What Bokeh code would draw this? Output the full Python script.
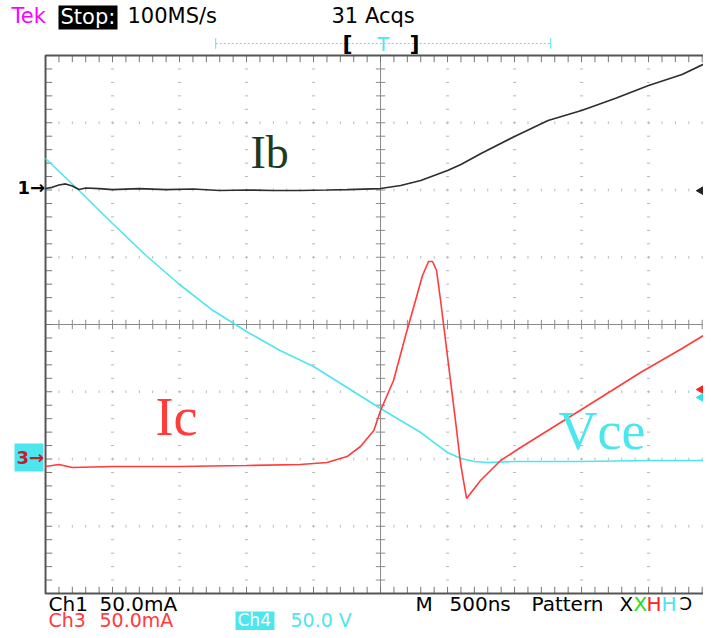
from bokeh.plotting import figure
from bokeh.models import Range1d, Label, BoxAnnotation
from bokeh.embed import file_html
from bokeh.resources import INLINE
import numpy as np

# ---- Data (time in ns, 500 ns/div; amplitude in screen divisions) ----
ib_t = [-2500, -2450, -2400, -2350, -2300, -2250, -2200, -2100, -2000, -1800, -1600, -1400,
        -1200, -1000, -800, -600, -400, -250, 0, 150, 300, 400, 500, 600, 750, 1000, 1250,
        1500, 1750, 2000, 2250, 2470]
ib_v = [2.022, 2.040, 2.075, 2.090, 2.060, 2.007, 2.030, 2.022, 2.007, 2.022, 2.007, 2.015,
        1.993, 2.000, 1.993, 1.993, 2.000, 2.007, 2.022, 2.067, 2.141, 2.216, 2.290, 2.379,
        2.543, 2.796, 3.033, 3.182, 3.361, 3.554, 3.717, 3.926]

ic_t = [-2500, -2400, -2300, -2000, -1500, -1000, -600, -400, -250, -150, -50, 0, 97, 187,
        261, 313, 358, 388, 418, 448, 485, 522, 560, 597, 642, 746, 896, 1045, 1500, 1750,
        1940, 2250, 2470]
ic_v = [-2.112, -2.082, -2.126, -2.112, -2.112, -2.097, -2.082, -2.052, -1.963, -1.814,
        -1.576, -1.279, -0.833, -0.164, 0.357, 0.729, 0.937, 0.937, 0.803, 0.357, -0.238,
        -0.833, -1.442, -2.067, -2.587, -2.320, -2.022, -1.829, -1.264, -0.952, -0.714,
        -0.357, -0.089]

vce_t = [-2500, -2250, -2000, -1750, -1500, -1250, -1000, -750, -500, -250, 0, 150, 300,
         400, 500, 600, 700, 800, 1000, 1500, 2000, 2470]
vce_v = [2.468, 1.993, 1.502, 1.026, 0.595, 0.208, -0.104, -0.387, -0.625, -0.937, -1.249,
         -1.428, -1.606, -1.755, -1.903, -1.993, -2.037, -2.052, -2.037, -2.037, -2.022, -2.022]

ch_ground = {"1": 2.04, "3": -1.98}          # left ground markers (div)
right_marks = [1.99, -0.967, -1.085]          # right offset markers (div)
right_cols = ["#222222", "#ff2020", "#30e0e8"]
trig_window = [-1230, 1270]                   # record window bar (ns)

RED = "#ff3b3b"
CYAN = "#4ee6ee"
BLK = "#2e2e2e"
SANS = "DejaVu Sans"
SERIF = "Liberation Serif"

p = figure(width=703, height=630, x_range=Range1d(-2836, 2410), y_range=Range1d(-4.550, 4.818),
           x_axis_type=None, y_axis_type=None, toolbar_location=None, output_backend="svg",
           min_border=0, outline_line_color=None, background_fill_color="white")
p.grid.visible = False

# ---- graticule ----
minor_x = np.arange(-2500, 2501, 100)
minor_y = np.arange(-4, 4.001, 0.2)
for xd in [-2000, -1500, -1000, -500, 500, 1000, 1500, 2000]:
    ys = minor_y[1:-1]
    p.segment(x0=[xd - 12] * len(ys), y0=ys, x1=[xd + 12] * len(ys), y1=ys,
              line_color="#b8b8b8", line_width=1)
for yd in [-3, -2, -1, 1, 2, 3]:
    xs = minor_x[1:-1]
    p.segment(x0=xs, y0=[yd - 0.02] * len(xs), x1=xs, y1=[yd + 0.02] * len(xs),
              line_color="#b8b8b8", line_width=1)
p.line([-2500, 2500], [0, 0], line_color="#8a8a8a", line_width=1)
p.line([0, 0], [-4, 4], line_color="#8a8a8a", line_width=1)
p.segment(x0=minor_x, y0=[-0.07] * len(minor_x), x1=minor_x, y1=[0.07] * len(minor_x),
          line_color="#8a8a8a", line_width=1)
p.segment(x0=[-35] * len(minor_y), y0=minor_y, x1=[35] * len(minor_y), y1=minor_y,
          line_color="#8a8a8a", line_width=1)
p.segment(x0=minor_x, y0=[4] * len(minor_x), x1=minor_x, y1=[3.9] * len(minor_x),
          line_color="#777777", line_width=1)
p.segment(x0=minor_x, y0=[-4] * len(minor_x), x1=minor_x, y1=[-3.9] * len(minor_x),
          line_color="#777777", line_width=1)
p.segment(x0=[-2500] * len(minor_y), y0=minor_y, x1=[-2450] * len(minor_y), y1=minor_y,
          line_color="#777777", line_width=1)
p.line([2500, -2500, -2500, 2500], [4, 4, -4, -4], line_color="#555555", line_width=2)

# ---- traces ----
p.line(vce_t, vce_v, line_color=CYAN, line_width=1.6)
p.line(ib_t, ib_v, line_color=BLK, line_width=1.7)
p.line(ic_t, ic_v, line_color=RED, line_width=1.6)

p.scatter([2395] * 3, right_marks, marker="triangle", angle=np.pi / 2, size=9,
          fill_color=right_cols, line_color=right_cols)

p.line(trig_window, [4.178, 4.178], line_color=CYAN, line_dash="2 2", line_width=1)
p.segment(x0=trig_window, y0=[4.1, 4.1], x1=trig_window, y1=[4.26, 4.26], line_color=CYAN)


def lab(x, y, text, color="black", size="21px", font=SANS, style="normal",
        yunits="screen"):
    p.add_layout(Label(x=x, y=y, x_units="screen", y_units=yunits, text=text,
                       text_color=color, text_font=font, text_font_size=size,
                       text_font_style=style, text_baseline="middle"))


def box(l, r, b, t, color):
    p.add_layout(BoxAnnotation(left=l, right=r, bottom=b, top=t, left_units="screen",
                               right_units="screen", top_units="screen",
                               bottom_units="screen", fill_color=color, fill_alpha=1,
                               line_color=None))


# header
lab(11, 615, "Tek", color="#ff00ff")
box(58, 117, 601, 625, "black")
lab(60, 614, "Stop:", color="white")
lab(127, 615, "100MS/s")
lab(331, 615, "31 Acqs")
lab(342, 587, "[", size="22px", style="bold")
lab(377, 587, "T", color=CYAN, size="19px")
lab(409, 587, "]", size="22px", style="bold")

# footer
lab(48, 27, "Ch1", size="20px")
lab(99, 27, "50.0mA", size="20px")
lab(415, 27, "M", size="20px")
lab(449, 27, "500ns", size="20px")
lab(531, 27, "Pattern", size="20px")
lab(619, 27, "X", size="20px")
lab(633, 27, "X", color="#22dd22", size="20px")
lab(646, 27, "H", color="#ff2020", size="20px")
lab(661, 27, "H", color=CYAN, size="20px")
lab(679, 27, "Ͻ", size="18px")
box(235, 274, 0, 19, CYAN)
lab(48, 11, "Ch3", color=RED, size="19px")
lab(99, 11, "50.0mA", color=RED, size="19px")
lab(237, 11, "Ch4", color="white", size="17px")
lab(290, 11, "50.0 V", color=CYAN, size="19px")

# ground markers
lab(17, ch_ground["1"], "1→", size="18px", style="bold", yunits="data")
box(14, 43, 159, 187, CYAN)
lab(16, ch_ground["3"], "3→", color="#c0202a", size="18px", style="bold", yunits="data")

# trace names
lab(250, 478, "Ib", color="#1f3b1f", size="46px", font=SERIF)
lab(155, 214, "Ic", color=RED, size="54px", font=SERIF)
lab(558, 200, "Vce", color=CYAN, size="54px", font=SERIF)

open("out.html", "w").write(file_html(p, INLINE))
